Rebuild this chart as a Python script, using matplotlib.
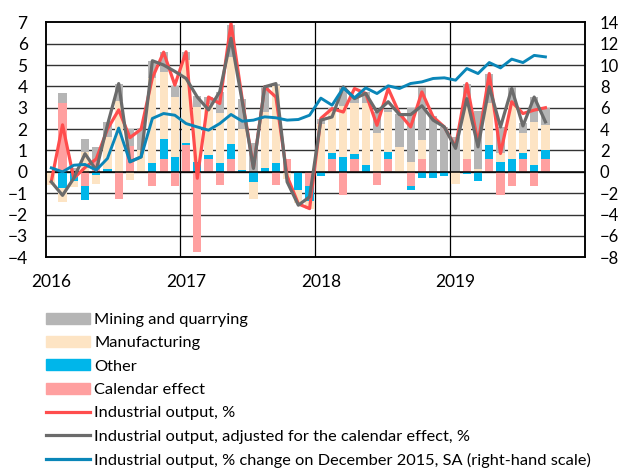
import numpy as np
import matplotlib.pyplot as plt
from matplotlib.patches import Patch
from matplotlib.lines import Line2D

plt.rcParams['font.family'] = ['Lato', 'DejaVu Sans']

# monthly data, Jan 2016 - Sep 2019
years = ['2016', '2017', '2018', '2019']

calendar = [0, 3.2, 0, -0.66, 0.45, 0, -1.25, 1.2, 0, -0.65, 0.62, -0.66,
            1.25, -3.74, 0.62, -0.62, 0.62, 0, 0, 0, -0.63, 0.62, 0, -0.65,
            0, 0.6, -1.1, 0.6, 0, -0.62, 0.6, 0, -0.65, 0.6, 0, 0,
            0, 0.6, 0, 0.62, -1.1, -0.65, 0.6, -0.65, 0.6]
other = [0, -0.75, -0.45, -0.67, -0.15, 0.15, 0, 0, 0, 0.4, 0.94, 0.7,
         0.08, 0.45, 0.16, 0.4, 0.66, 0.1, -0.47, 0.2, 0.4, 0, -0.86, -0.7,
         -0.18, 0.27, 0.7, 0.23, 0.3, 0, 0.34, 0, -0.2, -0.28, -0.3, -0.18,
         0, -0.1, -0.45, 0.63, 0.44, 0.62, 0.27, 0.31, 0.42]
manufacturing = [-0.6, -0.68, -0.25, 0.94, -0.4, 1.5, 3.3, -0.36, 1.0, 3.97, 3.12, 2.8,
                 3.9, 2.6, 2.39, 2.34, 4.1, 1.9, -0.8, 2.6, 3.63, -0.35, -0.62, -0.4,
                 2.26, 2.0, 2.4, 2.38, 2.9, 1.8, 1.87, 1.17, 0.47, 0.88, 0, 0,
                 -0.55, 2.9, 0.15, 1.95, 0.43, 2.65, 0.93, 2.03, 1.18]
mining = [0, 0.47, 0.2, 0.58, 0.7, 0.7, 0.8, 0.8, 1.05, 0.83, 0.94, 0.54,
          0.4, 0.5, 0.31, 1.0, 1.5, 1.4, 1.35, 1.17, 0.1, 0, 0, 0,
          0.2, 0.1, 0.86, 0.25, 0.55, 1.0, 0.15, 1.56, 2.5, 2.5, 2.6, 2.1,
          1.64, 0.6, 2.7, 1.4, 1.25, 0.7, 0.5, 1.17, 0.78]

output = [-0.45, 2.2, -0.3, 0.2, 0.6, 2.0, 2.9, 1.6, 2.0, 4.4, 5.6, 4.06,
          5.62, -0.3, 3.5, 3.2, 6.95, 3.4, 0.2, 3.98, 3.5, -0.2, -1.5, -1.72,
          2.5, 2.96, 2.8, 3.9, 3.67, 2.18, 3.9, 2.73, 2.1, 3.74, 2.57, 2.1,
          1.17, 4.13, 1.33, 4.6, 0.86, 3.28, 2.73, 2.89, 3.0]
output_adj = [-0.47, -1.1, -0.3, 0.85, 0.08, 2.2, 4.13, 0.47, 0.7, 5.2, 5.0, 4.7,
              4.37, 3.5, 2.9, 3.75, 6.25, 3.3, 0.16, 3.98, 4.13, -0.47, -1.56, -1.17,
              2.42, 2.57, 3.98, 3.43, 3.67, 2.8, 3.28, 2.68, 2.68, 3.09, 2.42, 2.1,
              1.1, 3.43, 1.17, 3.98, 2.1, 3.9, 2.15, 3.5, 2.34]
output_dec15 = [0.37, 0.0, 0.62, 0.69, 0.16, 1.25, 4.1, 0.94, 1.4, 5.0, 5.46, 5.3,
                4.52, 4.2, 3.9, 4.52, 5.37, 4.74, 4.84, 5.15, 5.06, 4.84, 4.9, 5.3,
                6.9, 6.24, 7.86, 6.93, 7.86, 7.33, 8.05, 7.8, 8.27, 8.42, 8.74, 8.8,
                8.58, 9.67, 9.2, 10.23, 9.73, 10.55, 10.23, 10.9, 10.76]

c_mining = '#b5b5b5'
c_manuf = '#fde4c4'
c_other = '#00b6ea'
c_cal = '#ffa0a0'
c_red = '#ff4d4d'
c_gray = '#6b6b6b'
c_blue = '#0a86b8'

fig = plt.figure(figsize=(6.2, 4.68), dpi=100)
ax = fig.add_axes([0.0737, 0.4502, 0.8694, 0.5022])

x = np.arange(len(calendar))
pos = np.zeros(len(x))
neg = np.zeros(len(x))
for vals, col in [(calendar, c_cal), (other, c_other), (manufacturing, c_manuf), (mining, c_mining)]:
    v = np.array(vals, dtype=float)
    base = np.where(v >= 0, pos, neg)
    ax.bar(x, v, 0.73, bottom=base, color=col, linewidth=0, zorder=2)
    pos += np.clip(v, 0, None)
    neg += np.clip(v, None, 0)

ax.plot(x, output, color=c_red, lw=2.3, zorder=4)
ax.plot(x, output_adj, color=c_gray, lw=2.3, zorder=5)

# grid
for y in range(-3, 7):
    ax.axhline(y, color='#333333', lw=1.0, zorder=1)
ax.axhline(0, color='black', lw=1.1, zorder=3)
for xv in [11.5, 23.5, 35.5]:
    ax.axvline(xv, color='black', lw=0.9, zorder=1)

ax.set_xlim(-0.5, 47.5)
ax.set_ylim(-4, 7)
ax.set_yticks(range(-4, 8))
ax.set_xticks([0, 12, 24, 36])
ax.set_xticklabels(years)
ax.tick_params(axis='y', length=0, pad=13, labelsize=12.5)
ax.tick_params(axis='x', length=0, pad=12, labelsize=12.5)

ax2 = ax.twinx()
ax2.plot(x, output_dec15, color=c_blue, lw=2.1)
ax2.set_ylim(-8, 14)
ax2.set_yticks(range(-8, 15, 2))
ax2.tick_params(axis='y', length=0, pad=11, labelsize=12)

for a in (ax, ax2):
    for s in a.spines.values():
        s.set_color('black')
        s.set_linewidth(1.1)

handles = [Patch(color=c_mining), Patch(color=c_manuf), Patch(color=c_other), Patch(color=c_cal),
           Line2D([], [], color=c_red, lw=2.3), Line2D([], [], color=c_gray, lw=2.3),
           Line2D([], [], color=c_blue, lw=2.3)]
labels = ['Mining and quarrying', 'Manufacturing', 'Other', 'Calendar effect',
          'Industrial output, %',
          'Industrial output, adjusted for the calendar effect, %',
          'Industrial output, % change on December 2015, SA (right-hand scale)']
fig.legend(handles, labels, loc='upper left', bbox_to_anchor=(0.0742, 0.332),
           frameon=False, fontsize=11.8, handlelength=2.7, handleheight=0.65,
           handletextpad=0.25, labelspacing=0.56, borderpad=0, borderaxespad=0)

fig.savefig('out.png', dpi=100)
